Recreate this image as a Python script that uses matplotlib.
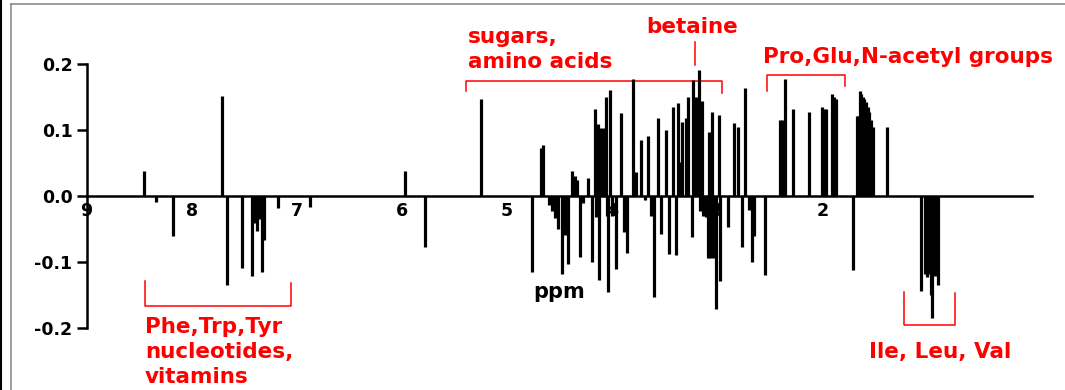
import matplotlib
matplotlib.use("Agg")
import matplotlib.pyplot as plt
from matplotlib.lines import Line2D

plt.rcParams['font.family'] = ['DejaVu Sans']
plt.rcParams['font.weight'] = 'bold'

# chemical shift of each bin (ppm) and its loading
ppm = [8.45, 8.34, 8.18, 7.71, 7.66, 7.52, 7.43, 7.40, 7.38, 7.36, 7.33, 7.31, 7.18, 6.87,
       5.97, 5.78, 5.25,
       4.76, 4.68, 4.66, 4.60, 4.57, 4.54, 4.51, 4.48, 4.45, 4.42, 4.38, 4.35, 4.33, 4.30,
       4.28, 4.23, 4.19, 4.16, 4.15, 4.13, 4.12, 4.10, 4.08, 4.06, 4.05, 4.035, 4.02, 4.00,
       3.96, 3.91, 3.89, 3.86, 3.80, 3.775, 3.72, 3.69, 3.66, 3.63, 3.60, 3.565, 3.53, 3.49,
       3.455, 3.42, 3.39, 3.375, 3.35, 3.33, 3.30, 3.275, 3.24, 3.225, 3.20, 3.17, 3.16,
       3.145, 3.13, 3.105, 3.09, 3.075, 3.065, 3.05, 3.04, 3.015, 2.98, 2.97,
       2.893, 2.84, 2.80, 2.765, 2.735, 2.70, 2.67, 2.65, 2.545,
       2.40, 2.38, 2.355, 2.28, 2.125, 2.005, 1.985, 1.965, 1.91, 1.89, 1.87,
       1.705, 1.672, 1.656, 1.640, 1.628, 1.615, 1.599, 1.583, 1.567, 1.552, 1.536, 1.520,
       1.385,
       1.057, 1.02, 1.006, 0.981, 0.966, 0.952, 0.93, 0.901]
loading = [0.039, -0.009, -0.060, 0.152, -0.135, -0.108, -0.120, -0.040, -0.052, -0.035, -0.115, -0.066, -0.017, -0.016,
           0.039, -0.077, 0.147,
           -0.115, 0.073, 0.077, -0.013, -0.022, -0.033, -0.050, -0.117, -0.059, -0.102, 0.039, 0.030, 0.025, -0.092,
           -0.010, 0.027, -0.100, 0.132, -0.031, 0.109, -0.127, 0.104, 0.104, 0.150, -0.030, -0.145, 0.161, -0.030,
           -0.110, 0.126, -0.054, -0.086, 0.177, 0.037, 0.085, -0.005, 0.091, -0.030, -0.152, 0.118, -0.057, 0.100,
           -0.087, 0.136, -0.089, 0.141, 0.052, 0.113, 0.118, 0.151, -0.061, 0.176, 0.150, 0.192, -0.023,
           0.144, -0.030, -0.032, -0.094, 0.098, -0.094, 0.128, -0.094, -0.170, 0.123, -0.129,
           -0.046, 0.111, 0.105, -0.077, 0.164, -0.021, -0.099, -0.060, -0.119,
           0.115, 0.115, 0.177, 0.132, 0.128, 0.136, 0.133, 0.132, 0.155, 0.150, 0.148,
           -0.112, 0.121, 0.121, 0.159, 0.155, 0.151, 0.147, 0.143, 0.135, 0.128, 0.116, 0.105,
           0.105,
           -0.143, -0.118, -0.122, -0.117, -0.150, -0.185, -0.120, -0.134]

x_ticks = [9, 8, 7, 6, 5, 4, 3, 2, 1]
y_ticks = [-0.2, -0.1, 0.0, 0.1, 0.2]
y_labels = ["-0.2", "-0.1", "0.0", "0.1", "0.2"]

red = "#ff0000"

fig = plt.figure(figsize=(10.65, 3.9), dpi=100)
ax = fig.add_axes([86.5 / 1065, (390 - 328.3) / 390, 945.9 / 1065, 264 / 390])

ax.vlines(ppm, 0, loading, color="black", lw=2.3, zorder=3)

ax.set_xlim(9, 0)
ax.set_ylim(-0.2, 0.2)

ax.spines["top"].set_visible(False)
ax.spines["right"].set_visible(False)
ax.spines["bottom"].set_position(("data", 0))
ax.spines["bottom"].set_linewidth(1.8)
ax.spines["bottom"].set_zorder(2.6)
ax.spines["left"].set_linewidth(1.8)
ax.spines["left"].set_bounds(-0.2, 0.2)

ax.set_xticks(x_ticks)
ax.set_xticklabels([str(t) for t in x_ticks], fontsize=12.5, fontweight="bold")
ax.tick_params(axis="x", length=0, pad=4)
ax.set_yticks(y_ticks)
ax.set_yticklabels(y_labels, fontsize=12.5, fontweight="bold")
ax.tick_params(axis="y", length=7, width=1.8, pad=3)

ax.text(4.50, -0.1536, "ppm", fontsize=15, fontweight="bold", ha="center", va="baseline")

# annotations
tk = dict(fontsize=15.5, fontweight="bold", color=red, clip_on=False)
lk = dict(color=red, lw=1.1, clip_on=False)

ax.text(5.367, 0.2318, "sugars,", ha="left", va="baseline", **tk)
ax.text(5.367, 0.194, "amino acids", ha="left", va="baseline", **tk)
ax.plot([5.389, 5.389, 2.956, 2.956], [0.160, 0.1752, 0.1752, 0.157], **lk)

ax.text(3.239, 0.247, "betaine", ha="center", va="baseline", **tk)
ax.plot([3.210, 3.210], [0.234, 0.199], **lk)

ax.text(2.560, 0.2024, "Pro,Glu,N-acetyl groups", ha="left", va="baseline", **tk)
ax.plot([2.528, 2.528, 1.783, 1.783], [0.160, 0.1838, 0.1838, 0.167], **lk)

ax.text(8.443, -0.2076, "Phe,Trp,Tyr", ha="left", va="baseline", **tk)
ax.text(8.443, -0.2455, "nucleotides,", ha="left", va="baseline", **tk)
ax.text(8.443, -0.2824, "vitamins", ha="left", va="baseline", **tk)
ax.plot([8.443, 8.443, 7.057, 7.057], [-0.1283, -0.1662, -0.1662, -0.131], **lk)

ax.text(1.552, -0.2455, "Ile, Leu, Val", ha="left", va="baseline", **tk)
ax.plot([1.221, 1.221, 0.736, 0.736], [-0.1445, -0.195, -0.195, -0.146], **lk)

# picture frame
fig.add_artist(Line2D([0.01, 1], [0.9885, 0.9885], transform=fig.transFigure, color="#8c8c8c", lw=1.2))
fig.add_artist(Line2D([0.01, 0.01], [0, 0.9885], transform=fig.transFigure, color="#8c8c8c", lw=1.2))
fig.add_artist(Line2D([0.0007, 0.0007], [0, 1], transform=fig.transFigure, color="black", lw=1.5))

fig.savefig("out.png", dpi=100)
